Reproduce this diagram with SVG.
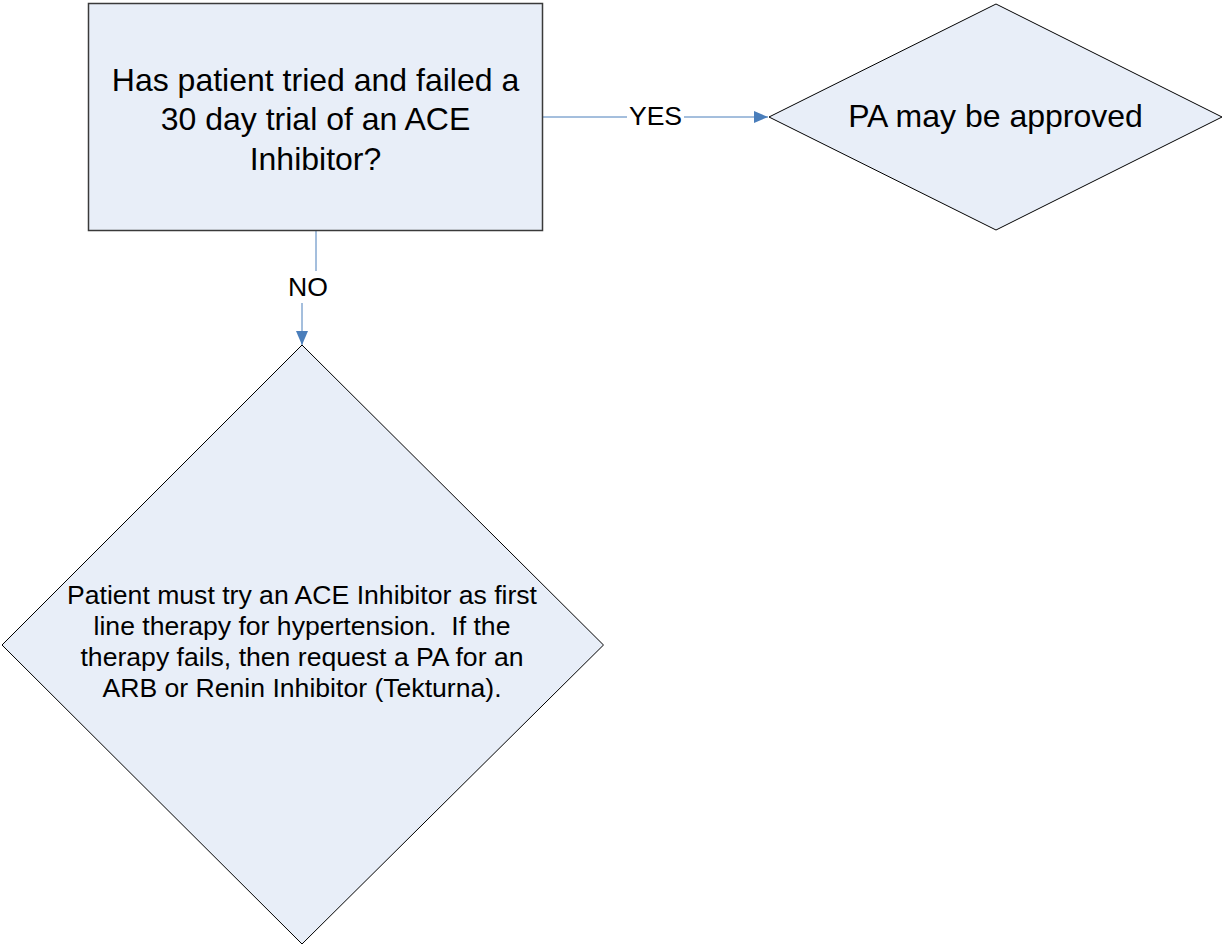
<svg xmlns="http://www.w3.org/2000/svg" width="1225" height="952" viewBox="0 0 1225 952">
<defs>
<style>
.node{fill:#e8eef8;stroke:#000;stroke-width:1}
.box{fill:#e8eef8;stroke:#3a3a3a;stroke-width:1.5}
.t{font-family:"Liberation Sans",Arial,sans-serif;fill:#000;text-anchor:middle;white-space:pre}
.big{font-size:32px}
.mid{font-size:26.6px}
.conn{fill:none;stroke:#4a7ebb;stroke-width:1}
.lblbg{fill:#fff}
</style>
<marker id="arr" markerWidth="14" markerHeight="12" refX="14" refY="6" orient="auto" markerUnits="userSpaceOnUse">
<path d="M0,0 L14,6 L0,12 Z" fill="#4a7ebb"/>
</marker>
</defs>
<rect width="1225" height="952" fill="#fff"/>
<g id="connectors">
<path class="conn" d="M543,117 H768" marker-end="url(#arr)"/>
<path class="conn" d="M316,231 V287 H302 V345" marker-end="url(#arr)"/>
<rect class="lblbg" x="627" y="102" width="57" height="30"/>
<text class="t mid" x="655.5" y="125">YES</text>
<rect class="lblbg" x="288" y="271" width="40" height="32"/>
<text class="t mid" x="308" y="295.5">NO</text>
</g>
<g id="node-question">
<rect class="box" x="88.5" y="3.5" width="454" height="227"/>
<text class="t big" x="315.5" y="91">Has patient tried and failed a</text>
<text class="t big" x="315.5" y="130">30 day trial of an ACE</text>
<text class="t big" x="315.5" y="169.5">Inhibitor?</text>
</g>
<g id="node-approved">
<polygon class="node" points="996,4 1222,117 996,230 769,117"/>
<text class="t big" x="995.5" y="127">PA may be approved</text>
</g>
<g id="node-ace">
<polygon class="node" points="302,345 603.5,645 302,944 2,645"/>
<text class="t mid" x="302" y="604">Patient must try an ACE Inhibitor as first</text>
<text class="t mid" x="302" y="635" xml:space="preserve">line therapy for hypertension.  If the</text>
<text class="t mid" x="302" y="666">therapy fails, then request a PA for an</text>
<text class="t mid" x="302" y="697">ARB or Renin Inhibitor (Tekturna).</text>
</g>
</svg>
